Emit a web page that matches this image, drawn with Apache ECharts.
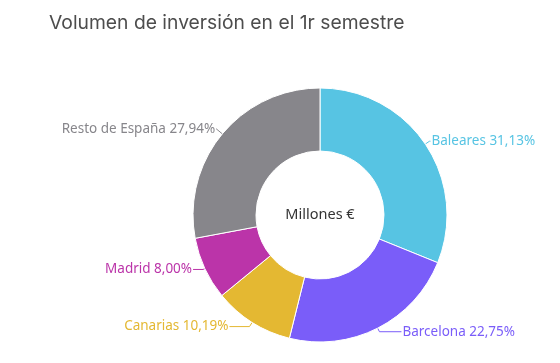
<!DOCTYPE html>
<html>
<head>
<meta charset="utf-8">
<script src="https://cdn.jsdelivr.net/npm/echarts@6/dist/echarts.min.js"></script>
<style>
html,body{margin:0;padding:0;background:#fff;}
#c{width:560px;height:363px;}
</style>
</head>
<body>
<div id="c"></div>
<script>
const categories = ['Baleares', 'Barcelona', 'Canarias', 'Madrid', 'Resto de España'];
const shares = [31.13, 22.75, 10.19, 8.00, 27.94];
const colors = ['#57c4e3', '#7a5df9', '#e4b832', '#bb34a9', '#87868b'];
const titleText = 'Volumen de inversión en el 1r semestre';
const centerText = 'Millones €';
const lineLen = [5, 4, 5, 2, 8];
const lineLen2 = [1, 22, 20, 10, 0];

const chart = echarts.init(document.getElementById('c'), null, {renderer: 'canvas'});
chart.setOption({
  animation: false,
  title: {
    text: titleText,
    left: 44, top: 9,
    textStyle: {fontFamily: 'Inter', fontWeight: 400, fontSize: 19.3, color: '#4d4d4d'}
  },
  graphic: [{
    type: 'text', x: 320, y: 215,
    style: {text: centerText, align: 'center', verticalAlign: 'middle',
      font: '400 14.5px "Noto Sans"', fill: '#333'}
  }],
  series: [{
    type: 'pie',
    center: [320, 215],
    radius: [64, 127],
    startAngle: 90,
    clockwise: true,
    avoidLabelOverlap: false,
    itemStyle: {borderColor: '#fff', borderWidth: 1},
    label: {
      show: true,
      position: 'outside',
      fontFamily: 'Noto Sans',
      fontSize: 13.5,
      distanceToLabelLine: 1,
      formatter: p => p.name + ' ' + p.value.toFixed(2).replace('.', ',') + '%'
    },
    labelLine: {show: true, lineStyle: {width: 1}},
    data: categories.map((n, i) => ({
      name: n, value: shares[i],
      itemStyle: {color: colors[i]},
      label: {color: colors[i]},
      labelLine: {length: lineLen[i], length2: lineLen2[i], lineStyle: {color: colors[i]}}
    }))
  }]
});
</script>
</body>
</html>
